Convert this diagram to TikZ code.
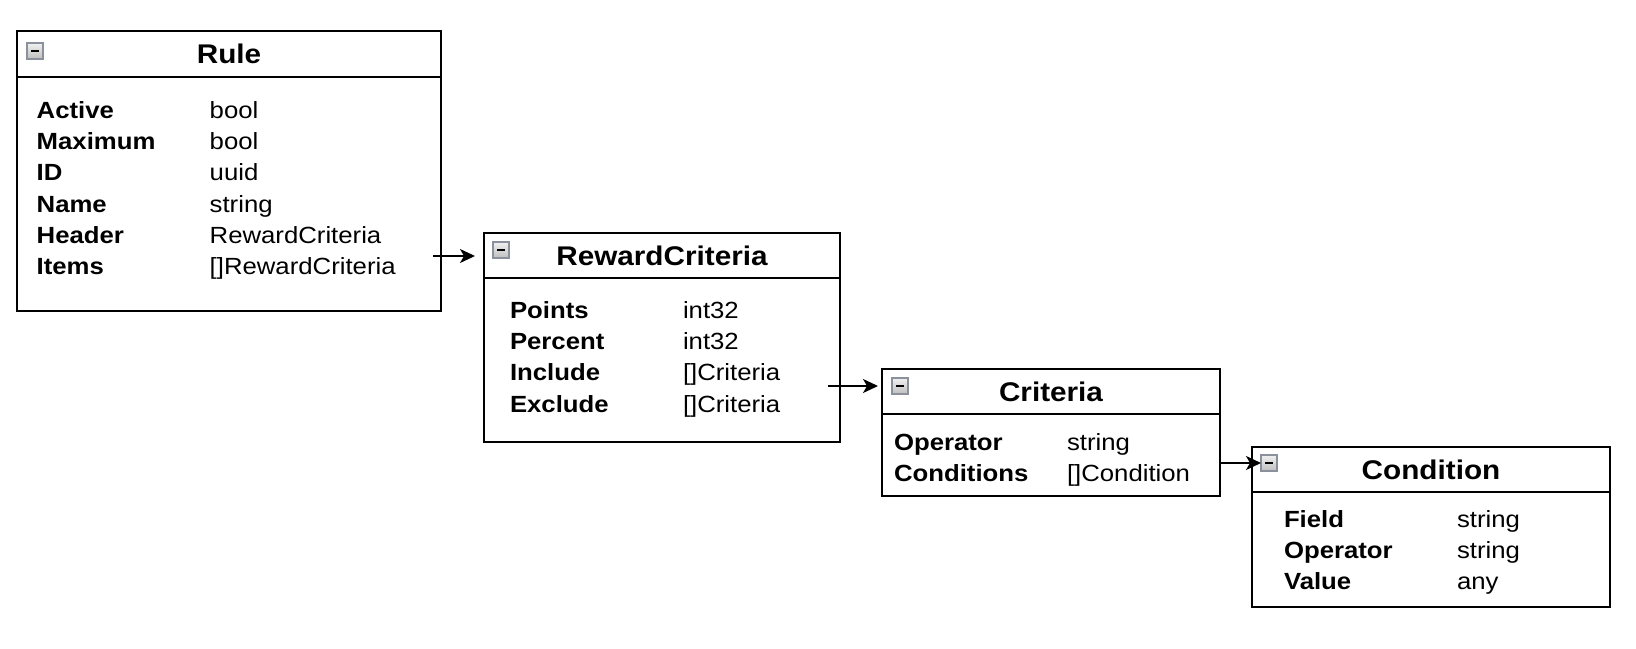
\documentclass[tikz,border=0pt]{standalone}
\usepackage{fontspec}
\setmainfont[FakeStretch=1.1]{Liberation Sans}
\usetikzlibrary{positioning,arrows.meta}
\definecolor{iconedge}{HTML}{8A909C}
\newcommand{\fields}[1]{\begin{tabular}[t]{@{}p{173pt}@{}l@{}}#1\end{tabular}}
\tikzset{
  classhead/.style={draw,line width=2pt,outer sep=0pt,inner sep=0pt,anchor=north west,minimum height=45pt,font=\bfseries\fontsize{27}{32}\selectfont},
  classbody/.style={draw,line width=2pt,outer sep=0pt,inner sep=0pt},
  fieldlist/.style={inner sep=0pt,outer sep=0pt,anchor=base west,font=\fontsize{23.4}{31.3}\selectfont},
  foldbox/.style={draw=iconedge,line width=1.8pt,top color=gray!12,bottom color=gray!50,minimum size=16pt,inner sep=0pt,outer sep=0pt,anchor=north west},
  link/.style={-{Stealth[length=15pt,width=14pt,inset=4pt]},line width=1.6pt}
}
\begin{document}
\begin{tikzpicture}[x=1pt,y=-1pt]
\fill[white] (0,0) rectangle (1636,648);
% Rule
\node[classhead,minimum width=423.4pt,minimum height=46pt] (rule) at (17.3,30.7) {Rule};
\node[classbody,minimum width=423.4pt,minimum height=234pt,below=0pt of rule] (rulebody) {};
\node[foldbox] (ruleicon) at (27,43) {\rule{8pt}{2.6pt}};
\node[fieldlist] (rulefields) at (36.7,118.3) {\fields{
\textbf{Active} & bool \\
\textbf{Maximum} & bool \\
\textbf{ID} & uuid \\
\textbf{Name} & string \\
\textbf{Header} & RewardCriteria \\
\textbf{Items} & []RewardCriteria}};
% RewardCriteria
\node[classhead,minimum width=356pt] (rc) at (484,233) {RewardCriteria};
\node[classbody,minimum width=356pt,minimum height=164pt,below=0pt of rc] (rcbody) {};
\node[foldbox] (rcicon) at (493,242) {\rule{8pt}{2.6pt}};
\node[fieldlist] (rcfields) at (510,318.3) {\fields{
\textbf{Points} & int32 \\
\textbf{Percent} & int32 \\
\textbf{Include} & []Criteria \\
\textbf{Exclude} & []Criteria}};
% Criteria
\node[classhead,minimum width=338pt] (crit) at (882,369) {Criteria};
\node[classbody,minimum width=338pt,minimum height=82pt,below=0pt of crit] (critbody) {};
\node[foldbox] (criticon) at (892,378) {\rule{8pt}{2.6pt}};
\node[fieldlist] (critfields) at (894,450) {\fields{
\textbf{Operator} & string \\
\textbf{Conditions} & []Condition}};
% Condition
\node[classhead,minimum width=358pt] (cond) at (1252,447) {Condition};
\node[classbody,minimum width=358pt,minimum height=115pt,below=0pt of cond] (condbody) {};
\node[foldbox] (condicon) at (1261,455) {\rule{8pt}{2.6pt}};
\node[fieldlist] (condfields) at (1284,527.3) {\fields{
\textbf{Field} & string \\
\textbf{Operator} & string \\
\textbf{Value} & any}};

\coordinate (ruleitems) at (433,256);
\coordinate (rcinclude) at (828,386);
\draw[link,shorten >=9pt] (ruleitems) -- (ruleitems -| rc.west);
\draw[link,shorten >=4pt] (rcinclude) -- (rcinclude -| crit.west);
\draw[link] (crit.east |- condicon.west) -- (condicon.west);
\end{tikzpicture}
\end{document}
